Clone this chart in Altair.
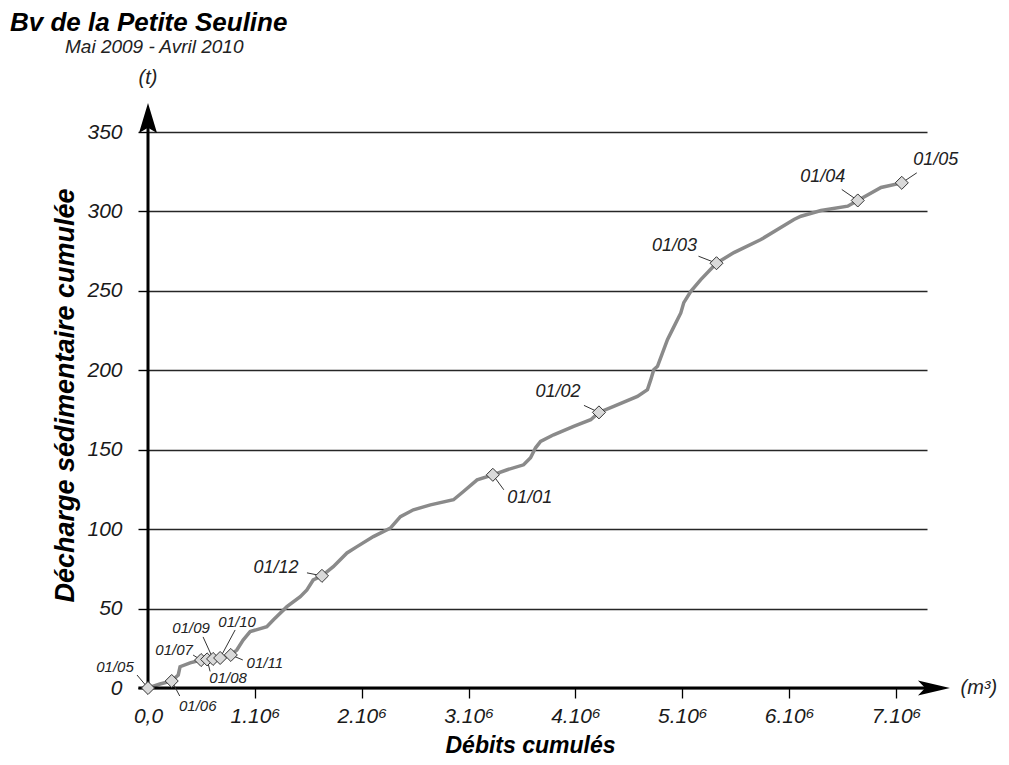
import altair as alt
import pandas as pd

# ---------------- data ----------------
# cumulative discharge (x 10^6 m3) and cumulative sediment load (t) along the curve
q_cum = [0, 0.112, 0.222, 0.283, 0.300, 0.394, 0.497, 0.553, 0.609, 0.675, 0.775,
         0.831, 0.89, 0.956, 1.112, 1.172, 1.30, 1.425, 1.487, 1.546, 1.628, 1.734,
         1.862, 1.956, 2.109, 2.268, 2.362, 2.484, 2.643, 2.859, 2.952, 3.08, 3.227,
         3.362, 3.515, 3.58, 3.627, 3.674, 3.796, 3.983, 4.143, 4.22, 4.358, 4.58,
         4.674, 4.705, 4.733, 4.768, 4.861, 4.908, 4.986, 5.014, 5.08, 5.173, 5.32,
         5.483, 5.736, 6.045, 6.11, 6.298, 6.548, 6.642, 6.86, 7.054]
sed_cum = [0, 2.5, 4.4, 8.2, 13.4, 15.8, 17.6, 18.0, 18.3, 18.9, 20.8,
           23.9, 30.2, 35.5, 38.6, 42.8, 51.2, 57.5, 61.7, 68.0, 70.6, 76.4,
           85.0, 89.0, 95.3, 100.6, 107.9, 112.2, 115.3, 118.5, 123.7, 131.0, 134.2,
           137.4, 140.5, 144.9, 151.2, 155.2, 159.4, 164.7, 168.9, 173.5, 177.3, 183.6,
           187.8, 194.1, 200.4, 202.5, 219.3, 225.6, 236.1, 242.6, 249.7, 257.1, 267.4,
           274.1, 282.3, 294.9, 297.0, 300.6, 303.3, 306.9, 315.1, 318.0]

# monthly markers
months = ["01/05", "01/06", "01/07", "01/08", "01/09", "01/10", "01/11",
          "01/12", "01/01", "01/02", "01/03", "01/04", "01/05"]
month_q = [0, 0.222, 0.497, 0.553, 0.609, 0.675, 0.775, 1.628, 3.227, 4.22, 5.32, 6.642, 7.054]
month_sed = [0, 4.4, 17.6, 18.0, 18.3, 18.9, 20.8, 70.6, 134.2, 173.5, 267.4, 306.9, 318.0]

# axis ticks
x_ticks = [0, 1e6, 2e6, 3e6, 4e6, 5e6, 6e6, 7e6]
y_ticks = [0, 50, 100, 150, 200, 250, 300, 350]

# ---------------- layout (annotation offsets in pixels) ----------------
W, H = 779, 556
X_MAX, Y_MAX = 7.29e6, 350
kx, ky = X_MAX / W, Y_MAX / H

label_dx = [-33, 26, -27, 21, -22, 17, 34, -46, 37, -41, -42, -35, 34]
label_dy = [-21, 25, -10, 19, -31, -36, 8, -8, 23, -20, -17, -23, -23]
lead_dx = [-11, 8, -8, 3, -10, 15, 12, -15, 11, -15, -18, -16, 15]
lead_dy = [-13, 15, -5, 12, -22, -28, 5, -3, 15, -7, -7, -11, -10]
label_size = [15, 15, 15, 15, 15, 15, 15, 18, 18, 18, 18, 18, 18]

FONT = "Liberation Sans"

curve = pd.DataFrame({"q": [v * 1e6 for v in q_cum], "sed": sed_cum,
                      "i": list(range(len(q_cum)))})
mk = pd.DataFrame({
    "month": months,
    "q": [v * 1e6 for v in month_q],
    "sed": month_sed,
})
mk["lx"] = mk["q"] + pd.Series(label_dx) * kx
mk["ly"] = mk["sed"] - pd.Series(label_dy) * ky
mk["q2"] = mk["q"] + pd.Series(lead_dx) * kx
mk["sed2"] = mk["sed"] - pd.Series(lead_dy) * ky
mk["fs"] = label_size

xs = alt.Scale(domain=[0, X_MAX], nice=False, zero=False)
ys = alt.Scale(domain=[0, Y_MAX], nice=False, zero=False)

x_axis = alt.Axis(
    values=x_ticks, grid=False, domain=False,
    tickSize=10, tickWidth=1.3,
    tickColor={"condition": {"test": "datum.value == 0", "value": "transparent"}, "value": "black"},
    labelExpr="datum.value == 0 ? '0,0' : (datum.value / 1000000) + '.10⁶'",
    labelFont=FONT, labelFontStyle="italic", labelFontSize=21, labelColor="#1a1a1a",
    labelPadding=7, labelFlush=False, labelOverlap=False,
    title="Débits cumulés", titleFont=FONT, titleFontStyle="italic",
    titleFontWeight="bold", titleFontSize=23, titleColor="black",
    titleX=382, titleY=64, titleBaseline="alphabetic", titleAlign="center",
)
y_axis = alt.Axis(
    values=y_ticks, grid=True, gridColor="#262626", gridWidth=1.4, domain=False,
    tickSize=10, tickWidth=1.4, tickColor="black",
    labelFont=FONT, labelFontStyle="italic", labelFontSize=21, labelColor="#1a1a1a",
    labelPadding=16, labelFlush=False, labelOverlap=False,
    title="Décharge sédimentaire cumulée", titleFont=FONT, titleFontStyle="italic",
    titleFontWeight="bold", titleFontSize=27, titleColor="black",
    titleX=-75, titleY=263, titleAngle=270, titleAlign="center", titleBaseline="alphabetic",
)


def X(field):
    return alt.X(field, scale=xs, axis=x_axis)


def Y(field):
    return alt.Y(field, scale=ys, axis=y_axis)


line = alt.Chart(curve).mark_line(color="#8a8a8a", strokeWidth=3.5).encode(
    x=X("q:Q"), y=Y("sed:Q"), order="i:Q",
)

# axis lines with arrowheads
axis_lines = pd.DataFrame({"x": [-0.09e6, 0], "x2": [7.33e6, 0], "y": [0, 0], "y2": [0, 355]})
axes_rules = alt.Chart(axis_lines).mark_rule(color="black", strokeWidth=3).encode(
    x=X("x:Q"), x2="x2:Q", y=Y("y:Q"), y2="y2:Q",
)
arrow_x = alt.Chart(pd.DataFrame({"x": [7.355e6], "y": [0]})).mark_point(
    shape="M1,0 L-1,-0.47 L-0.55,0 L-1,0.47 Z", filled=True, color="black",
    opacity=1, size=1024).encode(x=X("x:Q"), y=Y("y:Q"))
arrow_y = alt.Chart(pd.DataFrame({"x": [0], "y": [358.8]})).mark_point(
    shape="M0,-1 L0.6,1 L0,0.65 L-0.6,1 Z", filled=True, color="black",
    opacity=1, size=900).encode(x=X("x:Q"), y=Y("y:Q"))

leaders = alt.Chart(mk).mark_rule(color="#333", strokeWidth=1).encode(
    x=X("q:Q"), x2="q2:Q", y=Y("sed:Q"), y2="sed2:Q",
)
diamonds = alt.Chart(mk).mark_point(
    shape="diamond", filled=True, fill="#d9d9d9", stroke="#333", strokeWidth=1,
    opacity=1, size=170).encode(x=X("q:Q"), y=Y("sed:Q"))
labels = alt.Chart(mk).mark_text(
    font=FONT, fontStyle="italic", color="#222", align="center", baseline="middle").encode(
    x=X("lx:Q"), y=Y("ly:Q"),
    text="month:N", size=alt.Size("fs:Q", scale=None, legend=None),
)

units = pd.DataFrame({"x": [0, 7.775e6], "y": [384, 0], "t": ["(t)", "(m³)"]})
unit_text = alt.Chart(units).mark_text(
    font=FONT, fontStyle="italic", fontSize=20, color="#222",
    align="center", baseline="middle").encode(
    x=X("x:Q"), y=Y("y:Q"), text="t:N")

title = alt.Chart(pd.DataFrame({"t": ["Bv de la Petite Seuline"]})).mark_text(
    font=FONT, fontStyle="italic", fontWeight="bold", fontSize=26, color="black",
    align="left", baseline="alphabetic").encode(
    x=alt.value(-138), y=alt.value(-101), text="t:N")
subtitle = alt.Chart(pd.DataFrame({"t": ["Mai 2009 - Avril 2010"]})).mark_text(
    font=FONT, fontStyle="italic", fontSize=19, color="#222",
    align="left", baseline="alphabetic").encode(
    x=alt.value(-83), y=alt.value(-79), text="t:N")

chart = alt.layer(
    line, axes_rules, arrow_x, arrow_y, leaders, diamonds, labels, unit_text, title, subtitle
).properties(
    width=W, height=H,
    autosize=alt.AutoSizeParams(type="none"),
    padding={"left": 140, "top": 124, "right": 74, "bottom": 69},
    background="white",
).configure_view(stroke=None)

chart.save("out.html", embed_options={"renderer": "svg", "actions": False})
